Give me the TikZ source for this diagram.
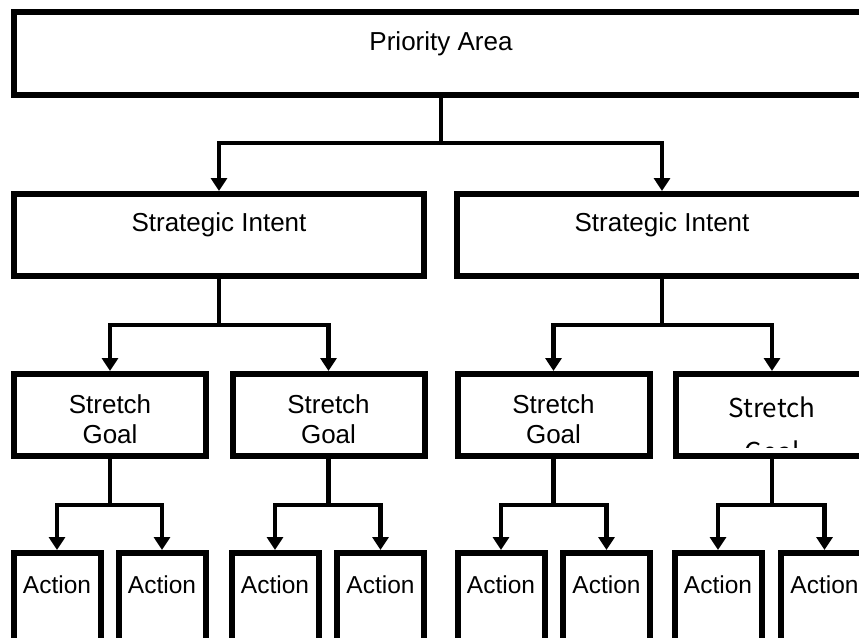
\documentclass[tikz,border=0pt]{standalone}
\usepackage{fontspec}
\setmainfont{Liberation Sans}
\newfontfamily\jpfont{Noto Sans CJK JP}
\usetikzlibrary{arrows.meta}
\begin{document}
\begin{tikzpicture}[x=1pt,y=-1pt,
  box/.style={draw=black,line width=6pt,inner sep=0pt,fill=white},
  lbl/.style={anchor=base,inner sep=0pt,font=\fontsize{26}{30}\selectfont},
  albl/.style={anchor=base,inner sep=0pt,font=\fontsize{24.5}{28}\selectfont},
  conn/.style={draw=black,line width=4.5pt},
  arr/.style={conn,-{Triangle[width=16pt,length=13pt]}}]
\useasboundingbox (0,0) rectangle (859,637);
\clip (0,0) rectangle (859,637);
\fill[white] (0,0) rectangle (859,637);
% boxes
\node[box,minimum width=854pt,minimum height=83pt] (top) at (441,53.5) {};
\node[box,minimum width=410pt,minimum height=82pt] (si1) at (219,235) {};
\node[box,minimum width=410pt,minimum height=82pt] (si2) at (662,235) {};
\foreach \n/\x in {sg1/110,sg2/328.5,sg3/553.5,sg4/772}
  \node[box,minimum width=192pt,minimum height=82pt] (\n) at (\x,415) {};
\foreach \n/\x in {a1/57,a2/162,a3/275,a4/380.5,a5/501,a6/606.5,a7/718,a8/824.5}
  \node[box,minimum width=87pt,minimum height=94pt] (\n) at (\x,600) {};
% labels
\node[lbl] (ttop) at (441,50) {Priority Area};
\node[lbl] (tsi1) at (219,231) {Strategic Intent};
\node[lbl] (tsi2) at (662,231) {Strategic Intent};
\foreach \n/\x in {1/110,2/328.5,3/553.5}{
  \node[lbl] (ts\n) at (\x,413) {Stretch};
  \node[lbl] (tg\n) at (\x,443) {Goal};
}
\node[lbl,font=\jpfont\fontsize{26}{30}\selectfont] (ts4) at (772,417) {Stretch};
\begin{scope}
  \clip (673,371) rectangle (871,447);
  \node[lbl,font=\jpfont\fontsize{26}{30}\selectfont] (tg4) at (772,461) {Goal};
\end{scope}
\foreach \n/\x in {1/57,2/162,3/275,4/380.5,5/501,6/606.5,7/718,8/824.5}
  \node[albl] (ta\n) at (\x,593) {Action};
% connectors
\coordinate (j0) at ([yshift=-45pt]top.south);
\draw[conn] (top.south) -- (j0);
\draw[arr] (j0) -| (si1.north);
\draw[arr] (j0) -| (si2.north);
\coordinate (j1) at ([yshift=-46pt]si1.south);
\draw[conn] (si1.south) -- (j1);
\draw[arr] (j1) -| (sg1.north);
\draw[arr] (j1) -| (sg2.north);
\coordinate (j2) at ([yshift=-46pt]si2.south);
\draw[conn] (si2.south) -- (j2);
\draw[arr] (j2) -| (sg3.north);
\draw[arr] (j2) -| (sg4.north);
\foreach \s/\l/\r in {sg1/a1/a2,sg2/a3/a4,sg3/a5/a6,sg4/a7/a8}{
  \coordinate (j\s) at ([yshift=-46pt]\s.south);
  \draw[conn] (\s.south) -- (j\s);
  \draw[arr] (j\s) -| (\l.north);
  \draw[arr] (j\s) -| (\r.north);
}
\end{tikzpicture}
\end{document}
